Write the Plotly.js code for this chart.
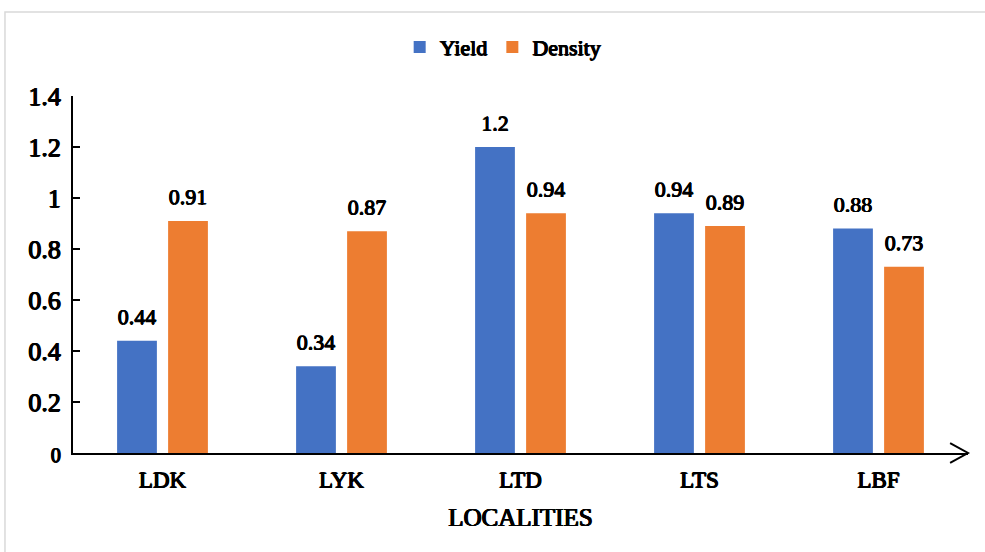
<!DOCTYPE html>
<html>
<head>
<meta charset="utf-8">
<script src="https://cdn.plot.ly/plotly-3.0.1.min.js"></script>
<style>html,body{margin:0;padding:0;background:#fff;}#chart{width:985px;height:552px;}</style>
</head>
<body>
<div id="chart"></div>
<script>
var categories = ['LDK', 'LYK', 'LTD', 'LTS', 'LBF'];
var yieldValues = [0.44, 0.34, 1.2, 0.94, 0.88];
var densityValues = [0.91, 0.87, 0.94, 0.89, 0.73];
var yTickValues = [0, 0.2, 0.4, 0.6, 0.8, 1, 1.2, 1.4];
var yTickLabels = ['<span style="font-size:20px">0</span>', '0.2', '0.4', '0.6', '0.8', '1', '1.2', '1.4'];

var FONT = 'Liberation Serif';
var FAKEBOLD = '0.6px 0 0 #000, -0.6px 0 0 #000, 0 0.4px 0 #000, 0 -0.3px 0 #000';
function boldFont(size) {
  return {family: FONT, size: size, color: '#000', shadow: FAKEBOLD};
}

var traces = [
  {
    type: 'bar', name: 'Yield', x: categories, y: yieldValues,
    marker: {color: '#4472C4'}, offsetgroup: 'yield'
  },
  {
    type: 'bar', name: 'Density', x: categories, y: densityValues,
    marker: {color: '#ED7D31'}, offsetgroup: 'density'
  },
  {
    type: 'scatter', mode: 'markers+text', x: categories, y: yieldValues,
    text: yieldValues.map(String), textposition: 'top center', textfont: boldFont(22),
    marker: {size: 16, opacity: 0}, offsetgroup: 'yield', showlegend: false, cliponaxis: false, hoverinfo: 'skip'
  },
  {
    type: 'scatter', mode: 'markers+text', x: categories, y: densityValues,
    text: densityValues.map(String), textposition: 'top center', textfont: boldFont(22),
    marker: {size: 16, opacity: 0}, offsetgroup: 'density', showlegend: false, cliponaxis: false, hoverinfo: 'skip'
  }
];

var layout = {
  width: 985, height: 552,
  margin: {l: 73, r: 17, t: 96, b: 99},
  paper_bgcolor: '#ffffff', plot_bgcolor: '#ffffff',
  barmode: 'group', bargap: 0.43, bargroupgap: 0.22,
  scattermode: 'group', scattergap: 0.43,
  showlegend: true,
  legend: {
    orientation: 'h', x: 0.365, xanchor: 'left', y: 1.137, yanchor: 'middle',
    font: boldFont(22)
  },
  xaxis: {
    type: 'category', showline: true, linecolor: '#000', linewidth: 2,
    ticks: '', showgrid: false, zeroline: false,
    tickfont: boldFont(23),
    ticklabelstandoff: 5,
    title: {text: 'LOCALITIES', font: boldFont(25), standoff: 17}
  },
  yaxis: {
    range: [0, 1.4], showline: true, linecolor: '#000', linewidth: 2,
    ticks: 'inside', ticklen: 7, tickwidth: 2, tickcolor: '#000',
    tickvals: yTickValues, ticktext: yTickLabels,
    showgrid: false, zeroline: false,
    tickfont: boldFont(26),
    ticklabelstandoff: 5
  },
  shapes: [
    {type: 'rect', xref: 'paper', yref: 'paper', x0: -0.076, x1: 1.03, y0: -0.32, y1: 1.235,
     line: {color: '#d9d9d9', width: 1.5}, fillcolor: 'rgba(0,0,0,0)', layer: 'below'},
    {type: 'path', xref: 'paper', yref: 'paper', path: 'M 0.98 0.028 L 1.0 0 L 0.98 -0.028',
     line: {color: '#000', width: 2}}
  ]
};

Plotly.newPlot('chart', traces, layout, {displayModeBar: false, staticPlot: true});
</script>
</body>
</html>
